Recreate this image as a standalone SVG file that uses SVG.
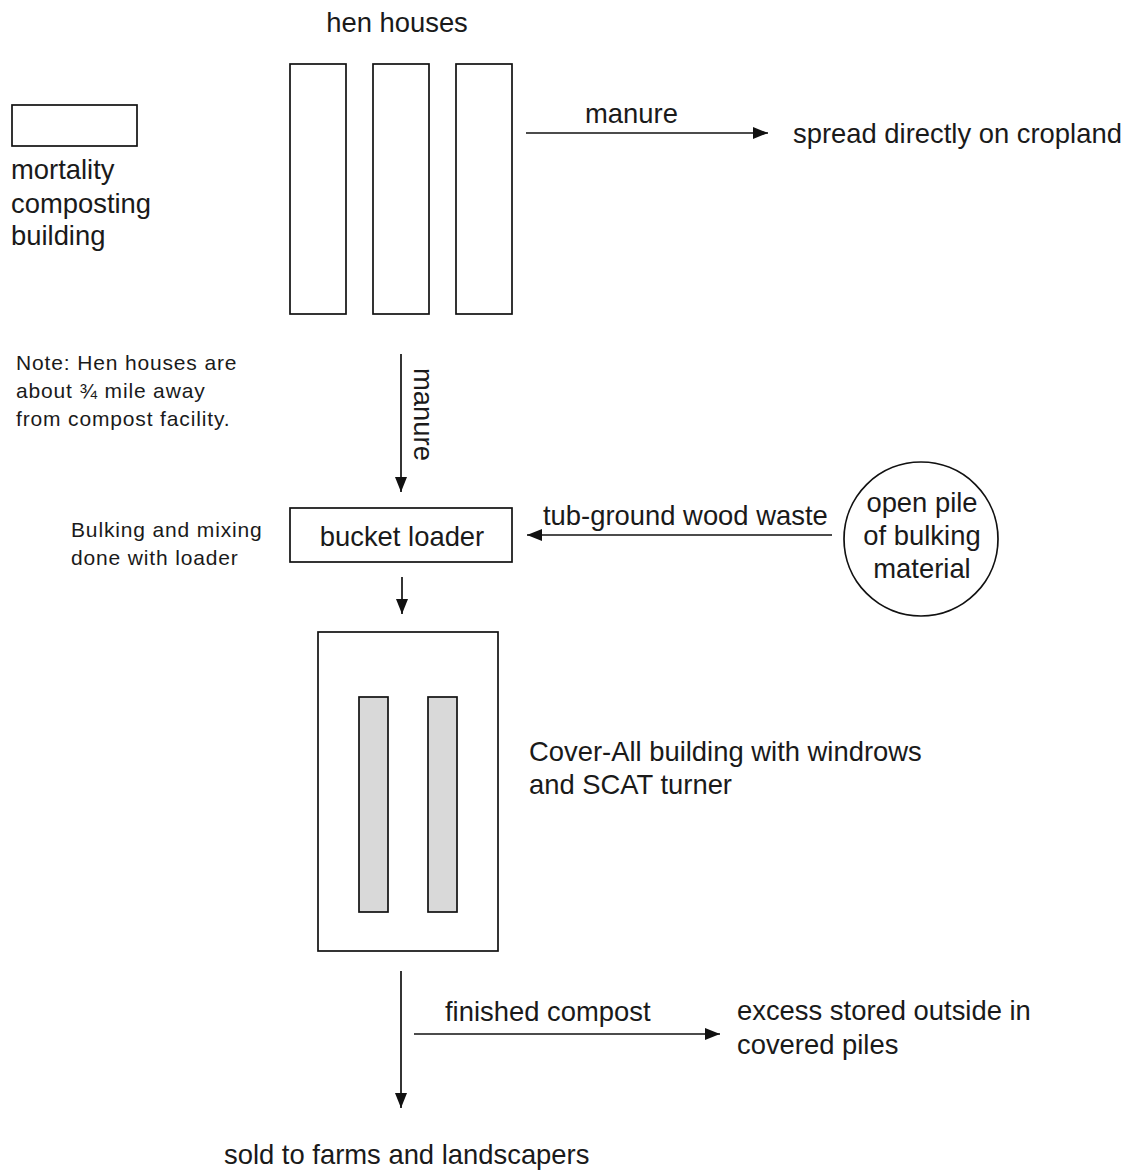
<svg xmlns="http://www.w3.org/2000/svg" width="1130" height="1172" viewBox="0 0 1130 1172">
<style>
  .box { fill: #fff; stroke: #111; stroke-width: 1.7; }
  .row { fill: #d9d9d9; stroke: #111; stroke-width: 1.7; }
  .lbl { font-family: "Liberation Sans", Arial, sans-serif; font-size: 27.4px; fill: #1a1a1a; }
  .sm { font-family: "Liberation Sans", Arial, sans-serif; font-size: 21px; letter-spacing: 0.85px; fill: #1a1a1a; }
  .mid { text-anchor: middle; }
  .conn line { stroke: #111; stroke-width: 1.7; }
</style>
<defs>
  <marker id="arr" viewBox="0 0 15 12" refX="15" refY="6" markerWidth="15" markerHeight="12" markerUnits="userSpaceOnUse" orient="auto">
    <path d="M0,0 L15,6 L0,12 z" fill="#111"/>
  </marker>
</defs>
<rect width="1130" height="1172" fill="#fff"/>

<g id="mortality-building">
  <rect class="box" x="12" y="105" width="125" height="41"/>
  <text class="lbl" x="11" y="179">mortality</text>
  <text class="lbl" x="11" y="213">composting</text>
  <text class="lbl" x="11" y="245">building</text>
</g>

<g id="hen-houses">
  <text class="lbl mid" x="397" y="32">hen houses</text>
  <rect class="box" x="290" y="64" width="56" height="250"/>
  <rect class="box" x="373" y="64" width="56" height="250"/>
  <rect class="box" x="456" y="64" width="56" height="250"/>
</g>

<g id="cropland">
  <text class="lbl" x="793" y="143">spread directly on cropland</text>
</g>

<g id="note">
  <text class="sm" x="16" y="370">Note: Hen houses are</text>
  <text class="sm" x="16" y="398">about ¾ mile away</text>
  <text class="sm" x="16" y="426">from compost facility.</text>
</g>

<g id="bulking-note">
  <text class="sm" x="71" y="537">Bulking and mixing</text>
  <text class="sm" x="71" y="565">done with loader</text>
</g>

<g id="bucket-loader">
  <rect class="box" x="290" y="508" width="222" height="54"/>
  <text class="lbl mid" x="402" y="546">bucket loader</text>
</g>

<g id="bulking-pile">
  <circle class="box" cx="921" cy="539" r="77"/>
  <text class="lbl mid" x="922" y="512">open pile</text>
  <text class="lbl mid" x="922" y="545">of bulking</text>
  <text class="lbl mid" x="922" y="578">material</text>
</g>

<g id="cover-all-building">
  <rect class="box" x="318" y="632" width="180" height="319"/>
  <rect class="row" x="359" y="697" width="29" height="215"/>
  <rect class="row" x="428" y="697" width="29" height="215"/>
  <text class="lbl" x="529" y="761">Cover-All building with windrows</text>
  <text class="lbl" x="529" y="794">and SCAT turner</text>
</g>

<g id="excess-storage">
  <text class="lbl" x="737" y="1020">excess stored outside in</text>
  <text class="lbl" x="737" y="1054">covered piles</text>
</g>

<g id="sold">
  <text class="lbl" x="224" y="1164">sold to farms and landscapers</text>
</g>

<g id="connectors" class="conn">
  <line x1="526" y1="133" x2="768" y2="133" marker-end="url(#arr)"/>
  <text class="lbl" x="585" y="123">manure</text>
  <line x1="401" y1="354" x2="401" y2="492" marker-end="url(#arr)"/>
  <text class="lbl" transform="translate(414,368) rotate(90)">manure</text>
  <line x1="832" y1="535" x2="527" y2="535" marker-end="url(#arr)"/>
  <text class="lbl" x="543" y="525">tub-ground wood waste</text>
  <line x1="402" y1="577" x2="402" y2="614" marker-end="url(#arr)"/>
  <line x1="401" y1="971" x2="401" y2="1108" marker-end="url(#arr)"/>
  <line x1="414" y1="1034" x2="720" y2="1034" marker-end="url(#arr)"/>
  <text class="lbl" x="445" y="1021">finished compost</text>
</g>
</svg>
